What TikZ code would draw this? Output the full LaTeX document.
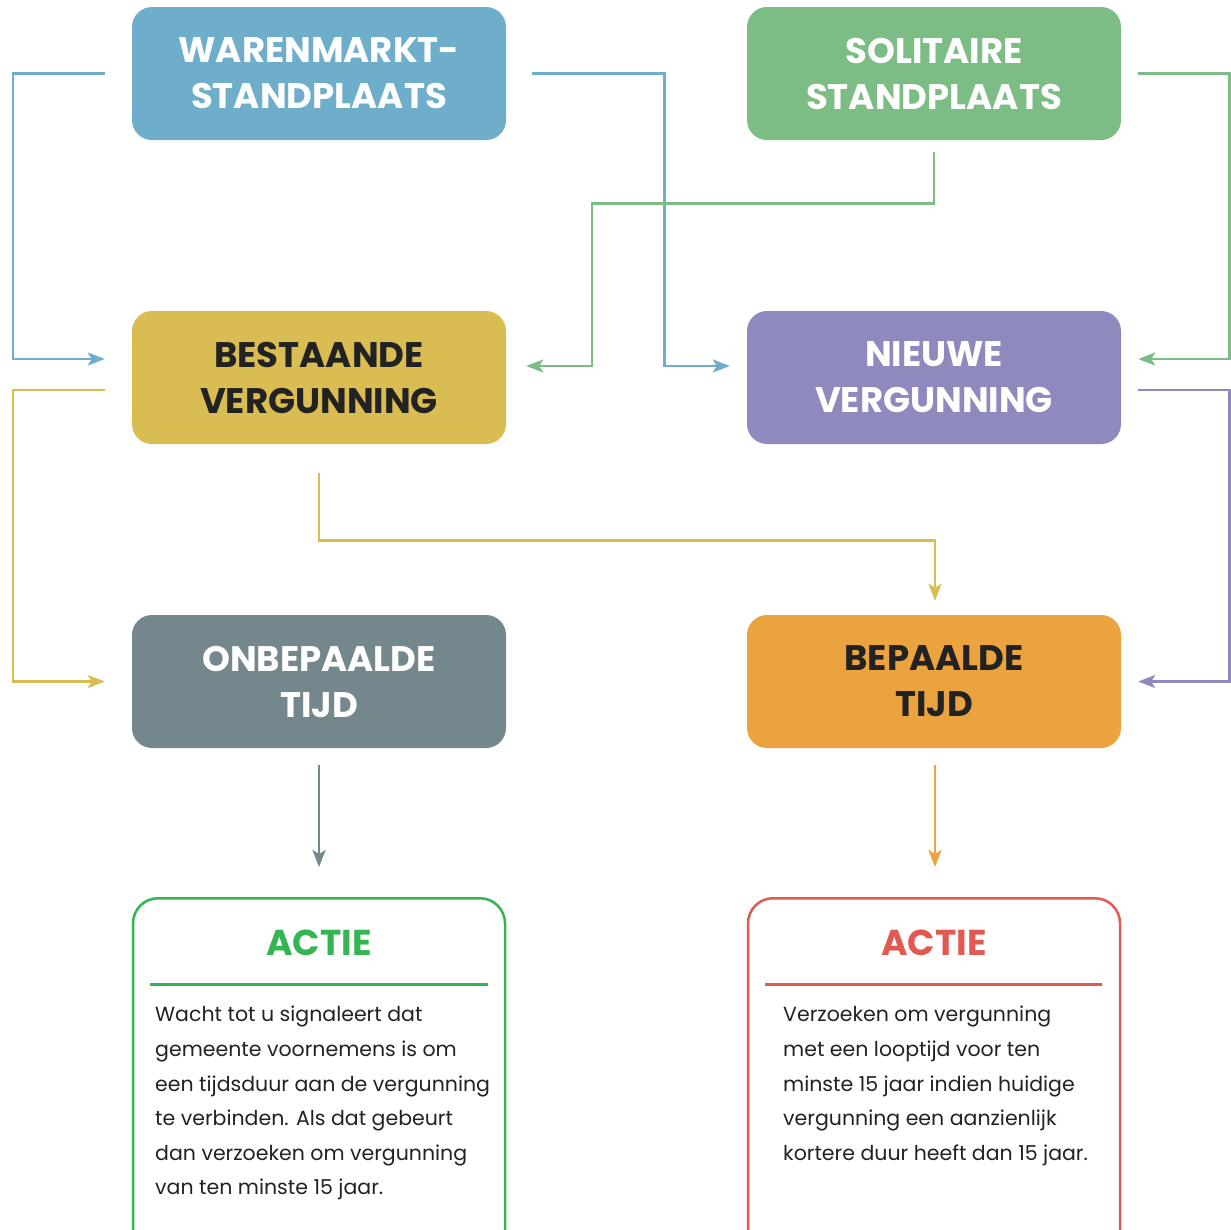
\documentclass[tikz,border=0pt]{standalone}
\usepackage{fontspec}
\setmainfont{Poppins}
\usetikzlibrary{arrows.meta}
\definecolor{bleu}{HTML}{6FAECB}
\definecolor{vert}{HTML}{7BBD85}
\definecolor{jaune}{HTML}{D9BC52}
\definecolor{violet}{HTML}{8F8ABD}
\definecolor{gris}{HTML}{74878D}
\definecolor{orange}{HTML}{EAA33E}
\definecolor{vertactie}{HTML}{35B552}
\definecolor{rougeactie}{HTML}{E05A52}
\definecolor{encre}{HTML}{222222}
\begin{document}
\begin{tikzpicture}[x=1pt,y=-1pt]
			\tikzstyle{fleche}=[-{Stealth[length=17pt,width=13pt,inset=4pt]},line width=2.6pt]
			\tikzstyle{boite}=[rounded corners=20pt,minimum width=374pt,minimum height=133pt,text width=360pt,inner xsep=2pt,align=center,font=\fontsize{35.5}{46}\selectfont\bfseries]
			\tikzstyle{actie}=[draw,line width=2.5pt,rounded corners=25pt,minimum width=372pt,minimum height=380pt,anchor=north]
			\tikzstyle{titre}=[font=\fontsize{36}{40}\selectfont\bfseries]
			\tikzstyle{texte}=[anchor=north west,inner sep=0pt,align=left,text=encre,font=\fontsize{20.5}{34.6}\selectfont]
			\useasboundingbox (0,0) rectangle (1231,1229);
			\clip (0,0) rectangle (1231,1229);
			% vakken
			\node[boite,fill=bleu,text=white] (W) at (319,73.5) {WARENMARKT-\\STANDPLAATS};
			\node[boite,fill=vert,text=white] (S) at (934,73.5) {SOLITAIRE\\STANDPLAATS};
			\node[boite,fill=jaune,text=encre] (B) at (319,377.5) {BESTAANDE\\VERGUNNING};
			\node[boite,fill=violet,text=white] (N) at (934,377.5) {NIEUWE\\VERGUNNING};
			\node[boite,fill=gris,text=white] (O) at (319,681.5) {ONBEPAALDE\\TIJD};
			\node[boite,fill=orange,text=encre] (P) at (934,681.5) {BEPAALDE\\TIJD};
			\node[actie,draw=vertactie] (A1) at (319,897) {};
			\node[actie,draw=rougeactie] (A2) at (934,897) {};
			\node[titre,text=vertactie] (T1) at (319,943) {ACTIE};
			\node[titre,text=rougeactie] (T2) at (934,943) {ACTIE};
			\draw[vertactie,line width=3pt] (150,984) -- (488,984);
			\draw[rougeactie,line width=3pt] (765,984) -- (1102,984);
			\node[texte] (C1) at (155,1006) {Wacht tot u signaleert dat\\gemeente voornemens is om\\een tijdsduur aan de vergunning\\te verbinden. Als dat gebeurt\\dan verzoeken om vergunning\\van ten minste 15 jaar.};
			\node[texte] (C2) at (783,1006) {Verzoeken om vergunning\\met een looptijd voor ten\\minste 15 jaar indien huidige\\vergunning een aanzienlijk\\kortere duur heeft dan 15 jaar.};
			% verbindingen
			\draw[fleche,bleu,shorten <=27pt,shorten >=27pt] (W.west) -- ++(-119,0) |- ([yshift=18.5pt]B.west);
			\draw[fleche,bleu,shorten <=26pt,shorten >=17pt] (W.east) -- ++(158,0) |- ([yshift=11.5pt]N.west);
			\draw[fleche,vert,shorten <=12pt,shorten >=20pt] (S.south) -- ++(0,63) -- ++(-342,0) |- ([yshift=11.5pt]B.east);
			\draw[fleche,vert,shorten <=17pt,shorten >=17pt] (S.east) -- ++(108,0) |- ([yshift=18.5pt]N.east);
			\draw[fleche,jaune,shorten <=27pt,shorten >=27pt] ([yshift=-12.5pt]B.west) -- ++(-119,0) |- (O.west);
			\draw[fleche,jaune,shorten <=29pt,shorten >=14pt] (B.south) -- ++(0,96) -| ([xshift=1pt]P.north);
			\draw[fleche,violet,shorten <=17pt,shorten >=17pt] ([yshift=-12.5pt]N.east) -- ++(108,0) |- (P.east);
			\draw[fleche,gris,shorten <=17pt,shorten >=30pt] (O.south) -- (A1.north);
			\draw[fleche,orange,shorten <=17pt,shorten >=30pt] ([xshift=1pt]P.south) -- ([xshift=1pt]A2.north);
\end{tikzpicture}
\end{document}
